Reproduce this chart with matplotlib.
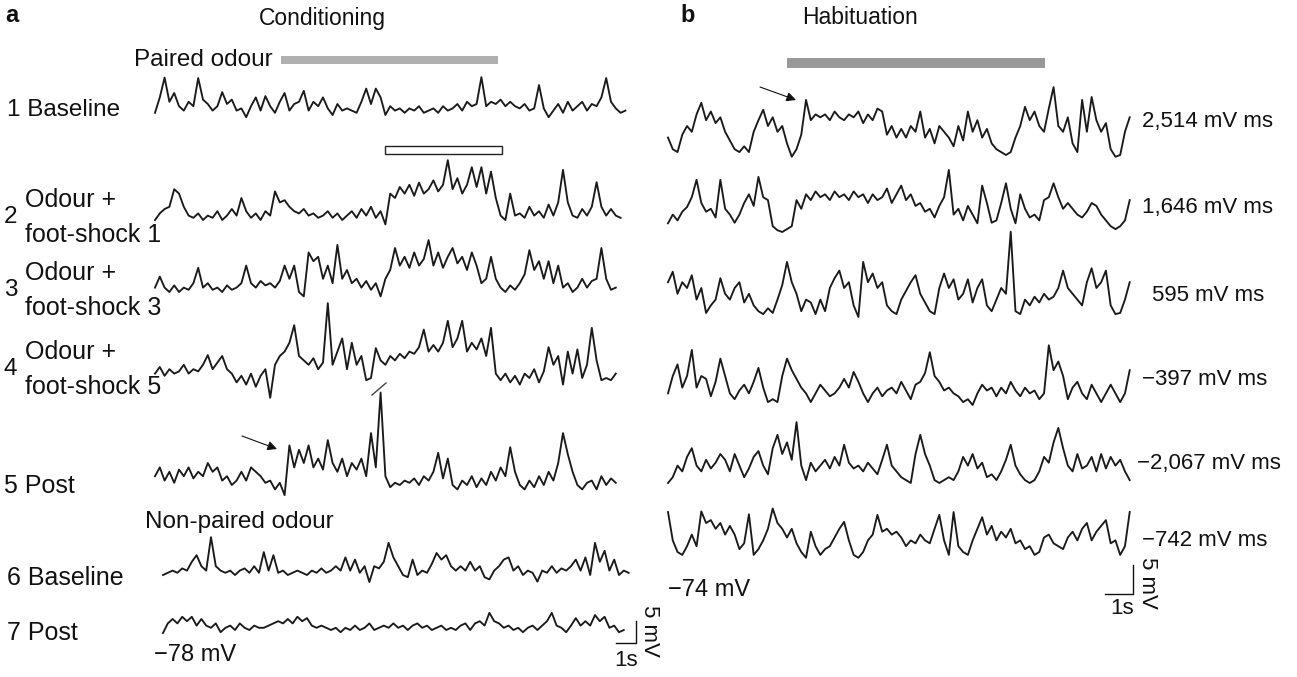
import matplotlib.pyplot as plt
import numpy as np
from matplotlib.patches import Rectangle

plt.rcParams['font.family'] = ['Liberation Sans', 'DejaVu Sans']

W, H = 1297, 677

# ---- panel a: conditioning, mV above resting level, one sample every 0.24 s
a_dt = 0.24
a_start = [0, 0, 0, 0, 0, 0.4, 0.4]  # s

a1 = [0.5, 4, 8.5, 3, 5, 2, 1, 3, 2, 8.4, 3.5, 2.5, 1, 2, 5.2, 2.5, 3.5, 1, 1.5, -0.5,
      2, 4, 1, 4.3, 2, 0.5, 3, 5, 1, 2.5, 3, 5.5, 1, 3, 2, 4, 1.5, 0, 2.5, 1,
      1.5, 1, 0.5, 3, 6, 2.5, 6, 4, 0, 2, 1, 1.5, 0.5, 1.5, 1, 2, 0.5, 1, 1.5, 0.5,
      2, 1, 1.5, 2.5, 1, 3, 2, 2.5, 8.6, 2, 3, 2.5, 3.5, 2, 3, 2, 1.5, 2.5, 1, 1.5,
      6.8, 1.5, -0.5, 1, 2.5, 0.5, 3, 1, 2, 3, 1, 2.5, 2, 4, 8.4, 3, 1.5, 0.5, 1]
a2 = [0, 1.5, 2.5, 3, 7, 6, 3, 1, 0.5, 1.5, 0, 1, 0.5, 2, 0, 1, 2.5, 1, 5, 2,
      0.5, 1.5, 0, 2, 1, 6.5, 4, 4.5, 3, 2, 1.5, 2.5, 1, 1.5, 0.5, 1, 2, 0.5, 1.5, 0,
      1, 2, 0.5, 2.5, 1, 3, 0.5, 2, -1, 6, 5, 7.5, 6, 8, 5.5, 8.5, 6, 7, 9, 6.5,
      8, 13.6, 7, 9.5, 6, 8, 12, 7.5, 12, 6, 11, 5, 1, 0, 6, 1, 1.5, 0.5, 3, 1,
      2, 0.5, 3.5, 1, 4, 11.4, 4, 1, 0.5, 2.5, 1, 3, 8.6, 3, 1, 2.5, 1, 0.5]
a3 = [1, 3.5, 1, 0, 1.5, 0, 1, 0.5, 2, 5.5, 1, 2, 0.5, 1, 0, 1.5, 0.5, 1, 2, 6,
      2, 1, 2.5, 1.5, 2, 1, 2.5, 6, 3, 6, 0, -1, 9, 7, 8, 3, 6, 2, 10.7, 3,
      5, 2, 3, 1, 2.5, 0.5, 2, -1, 3, 5, 10, 6, 8, 5.5, 9, 6, 7.5, 11.8, 6, 9,
      5.5, 8, 10, 6.5, 8, 5, 9, 6, 2, 3, 8, 3, 1, 0, 1.5, 0.5, 2, 4, 9.5, 5,
      7, 3, 7, 2, 6, 1, 2, 0, 1, 3, 1, 2.5, 3, 10, 3, 0.5, 1]
a4 = [1, 2.5, 0.5, 2, 1, 1.5, 3, 1, 2, 1.5, 3, 5.2, 2, 3.5, 5, 2, 1, -1, 0.5, -1.5,
      1, -2, 0.5, 2, -4.5, 3, 5, 6, 8, 12, 5, 4, 3, 4.5, 2, 3.5, 17, 3, 6, 9,
      2, 8, 3, 5, -0.5, 0, 6.8, 4, 3, 5, 4, 5.5, 4.5, 6, 5.5, 7, 11, 6, 7.5, 6,
      8, 13, 7, 9, 13, 6, 8, 6.5, 9, 5, 11.4, 1, -0.5, 1, -1, 0.5, -1.5, 1, 0, 2,
      -1, 1.5, 7, 3, 5, -1.5, 6, 1, 6.5, 0, 3, 11.4, 4, -0.5, 0, -0.5, 1]
a5 = [2, 4, 1, 3, 0.5, 3.5, 2, 4, 1.5, 3, 2, 5, 3, 4, 1, 2, 0, 1, 3, 1,
      4, 3, 2, 0.5, 1, -1, 0.5, -2.3, 9, 4, 8, 5, 9, 4, 6, 3.5, 10.2, 5, 3, 6,
      2, 5, 3.5, 6, 2, 11.8, 4, 21, 2, -0.5, 0.5, 0, 1, 0.5, 1.5, 0, 2, 1, 3, 7.3,
      1.5, 6, 0, -1, 1, 0, 2, -0.5, 1.5, 0, 3, 1, 4, 2, 8.6, 3, 0, -1, 1, -0.5,
      2, 0, 3, 1, 5, 11.8, 7, 3, 0, -1, 0.5, 1, -1, 2, 0, 1.5, 0.5]
a6 = [0, 0.5, 1, 0.5, 1.5, 1, 3, 4.5, 2, 1, 8.6, 2, 1, 0.5, 1, 0, 1, 1.5, 0.5, 2,
      0.5, 5.2, 1, 4.5, 0.5, 1, 0, 0.5, 1, 0.5, 0, 1, 0.5, 1.5, 0.5, 1, 2, 1, 4, 1,
      3.5, 0.5, 2, -1.6, 2, 1.5, 3, 7.3, 4, 2, 0, -0.5, 3.5, 0, 1, 0.5, 2.5, 5, 3.5, 4.5,
      2, 1, 2, 1, 3, 1, 2, -0.5, -1, 1, 2, 3.5, 4, 1, 2, 0, 1, 0.5, -1.5, 1,
      0.5, 2, 0.5, 1.5, 1, 2, 3.5, 1, 4, 0, 7.3, 3, 5.5, 1, 3.5, 0, 1, 0.5]
a7 = [-0.7, 1.5, 2.5, 1.5, 3, 2, 3, 1, 2.5, 1, 0.5, 1.5, -0.5, 0.5, 1, 0, 1.5, 0.5, 0, 1,
      0.5, 0.5, 1, 1.5, 2, 1.5, 2.5, 1.5, 3, 2, 2.7, 1, 0.5, 1, 0.5, 0, 0.5, -0.5, 0.5, 0,
      1, 0, 0.5, 1.5, 0, 0.5, 1, 0.5, 1.5, 0.5, 1, 0, 1, 1.5, 0.5, 1, 0, 0.5, 1, 0,
      0.5, 0, 1, 1.5, 0, 1.5, 2, 1, 3.9, 2, 1.5, 0.5, 1, 0, 0.5, -0.5, 0.5, 1, 0, 1,
      2, 3.9, 1, 0.5, -0.5, 1, 2.7, 1, 2, 1, 3.4, 2, 3, 0.5, 1, -0.5, 0]
a_traces = [a1, a2, a3, a4, a5, a6, a7]

paired_odour_s = (6.3, 17.15)
shock_s = (11.5, 17.35)

# ---- panel b: habituation, one sample every 0.17 s
b_dt = 0.17
b1 = [3, 1, 0.5, 3.5, 5, 4, 7, 9, 6, 7.5, 5.5, 6.5, 4, 2.5, 1, 0.5, 1.5, 0.5, 4, 6,
      7.8, 5, 6.5, 4, 5, 2, -0.3, 1, 3.5, 9.5, 6, 7, 6.5, 7, 6, 7.5, 6.5, 6, 7, 6.5,
      7.5, 5.5, 7, 6, 8, 7.5, 3.5, 5, 3, 4.5, 3, 5, 4, 7.5, 3, 4.5, 2, 5, 4, 3,
      1.5, 5, 2.5, 7.5, 4, 6, 3, 4.5, 2, 1, 0.5, 0, 0.5, 3, 5, 8.3, 6, 7.5, 5, 4,
      8, 11.7, 5, 4, 6.5, 2, 0.5, 9.5, 4, 10, 6, 4, 5.5, 1, -0.3, 0, 4, 6.5]
b2 = [1.5, 3, 2, 3.5, 4.3, 6, 9, 5, 3.5, 4, 2.5, 9, 4, 3, 1.6, 3, 5, 6.5, 4.5, 9.5,
      6, 5.5, 1, 0.3, 0, 0.5, 1, 5.5, 4, 6.5, 5.5, 7, 6, 6.5, 5.5, 7, 6, 6.5, 5.5, 7,
      6, 6.5, 5, 6.5, 5.5, 6, 7.5, 5, 6.5, 8, 5.5, 6.5, 4.5, 5, 3.5, 4, 2.5, 4.5, 6, 10.7,
      3, 4, 2, 4.5, 3, 1.5, 8, 5, 1.6, 2, 5, 8.4, 4, 1.5, 6.5, 4, 2.5, 3, 2, 5.5,
      6, 8.4, 6, 4, 5, 4, 3, 2.5, 3.5, 5, 4.5, 3, 2, 1, 0.5, 1, 2, 5.5]
b3 = [6, 7.8, 4, 6, 5, 7.2, 3, 5, 0.7, 2, 3, 6.7, 4, 3, 5, 6, 2.5, 4, 2, 1,
      0.5, 1.5, 0.7, 3, 5.5, 9.5, 6, 4, 1, 3, 2.5, 0.5, 3, 1, 5, 6.7, 8, 5, 6, 2,
      0, 9.5, 6, 7.5, 5, 6, 2, 1, 0.5, 3, 4.5, 6, 7.2, 4, 2.5, 1, 0.5, 5, 7.5, 5,
      6.5, 3, 4, 6.5, 2.5, 5, 6.5, 2, 1, 3, 5, 4, 14.7, 1, 0.5, 3, 2, 3.5, 2.5, 4,
      3, 3.5, 5, 8, 5, 4, 3, 2, 6, 8.4, 5, 6, 8, 2, 0.5, 0.7, 3, 6]
b4 = [2, 5, 7, 3, 5, 9.5, 3, 5, 4.5, 1.5, 4, 8, 5, 2, 1, 2.5, 3.5, 2, 4, 6.4,
      3, 0.5, 1, 0.5, 5, 8, 6, 4.5, 3, 2, 0.5, 2, 3.5, 2.5, 1.5, 2, 3, 4.5, 3, 5.7,
      4, 2, 0.5, 2, 3, 1.5, 2.5, 3, 2, 4, 2.5, 1, 3.5, 4, 5.5, 9.1, 5, 4, 2.5, 3,
      2, 1.5, 0.5, 1, 0, 2, 3.5, 2.5, 3, 1.5, 3, 2, 4, 2.5, 1.5, 3, 2, 2.5, 1, 2,
      10.3, 6, 7.5, 5, 1, 3, 4, 2, 1, 3.5, 2, 0.5, 2, 3.5, 2, 0.5, 2, 6]
b5 = [0, 1, 3, 2, 4.5, 6, 3, 2, 4, 2.5, 3.5, 5, 4, 2, 5, 3, 1, 2.5, 4.5, 5.5,
      3, 1.5, 6, 8.3, 5, 7, 4, 10.5, 3, 0.5, 3.5, 2, 3, 4, 2.5, 4.5, 3, 6.6, 3.5, 2.5,
      3, 2, 3.5, 2.5, 1.5, 4, 6.6, 3, 2, 1, 0.5, 0, 5, 8.3, 5, 3, 0.5, 0, 0.5, 1,
      0.5, 2, 4.5, 3, 5, 2.5, 3.5, 1, 1.5, 0.5, 2, 4, 6.6, 3, 1.5, 0.5, 0, 0.5, 2, 4.5,
      3.5, 7, 9.5, 6, 3, 2, 5, 2.5, 3, 4.5, 2, 5, 2.5, 4.5, 3, 4, 2, 0.5]
b6 = [6.9, 2, 0, -0.5, 1, 3, 1, 7, 5, 5.5, 4, 5, 3, 4.5, 3, 0.5, 1.5, 6.5, -0.5, 0.5,
      2, 4, 7.5, 5, 4, 2.5, 4, 1.5, 0, -1, 3.5, 1, -0.5, 0.5, 1, 2.5, 4, 5.2, 2, -0.5,
      -1, 0, 2, 3, 6.4, 3.5, 4, 3, 3.5, 2.5, 1, 2, 1.5, 3, 2, 1.5, 4, 6.4, 2, -0.5,
      6.9, 1, 0, -0.5, 2, 4, 6, 3, 4.5, 2, 3.5, 2.5, 4, 1.5, 2, 0.5, 1, -0.5, 0, 2.5,
      3, 1.5, 1, 0.5, 2.5, 3.5, 2, 4, 5, 2, 3.5, 4.5, 5.5, 1.5, 2, -0.5, 1, 6.9]
b_traces = [b1, b2, b3, b4, b5, b6]
b_labels = ['2,514 mV ms', '1,646 mV ms', '595 mV ms',
            '\u2212397 mV ms', '\u22122,067 mV ms', '\u2212742 mV ms']

hab_odour_s = (4.25, 13.46)

# ---- layout, in pixels of the 1297x677 canvas
A_X0, A_PPS, A_PPMV = 155, 20, 4.4
B_X0, B_PPS, B_PPMV = 668, 28, 5.8
a_rows = [115, 220, 292, 378, 485, 575, 630]
b_rows = [155, 232, 317, 405, 483, 552]
b_label_pos = [(1142, 122), (1142, 208), (1152, 295), (1142, 380), (1137, 463), (1142, 541)]
TRACE = '#1a1a1a'
LW = 1.35

fig = plt.figure(figsize=(W / 100, H / 100), dpi=100)


def panel(x0, pps, ppmv):
    # full-canvas axes: x in seconds, y in mV
    ax = fig.add_axes([0, 0, 1, 1])
    ax.set_xlim(-x0 / pps, (W - x0) / pps)
    ax.set_ylim(-H / ppmv, 0)
    ax.axis('off')
    return ax


def txt(x, y, s, size=16, **kw):
    fig.text(x / W, 1 - y / H, s, fontsize=size, va='center', color='#111111', **kw)


ax_a = panel(A_X0, A_PPS, A_PPMV)
ax_b = panel(B_X0, B_PPS, B_PPMV)


def a_pt(x, y):
    return (x - A_X0) / A_PPS, -y / A_PPMV


def b_pt(x, y):
    return (x - B_X0) / B_PPS, -y / B_PPMV


# traces
for v, t0, row in zip(a_traces, a_start, a_rows):
    t = t0 + a_dt * np.arange(len(v))
    ax_a.plot(t, np.array(v) - row / A_PPMV, color=TRACE, lw=LW, clip_on=False)

for v, row in zip(b_traces, b_rows):
    t = b_dt * np.arange(len(v))
    ax_b.plot(t, np.array(v) - row / B_PPMV, color=TRACE, lw=LW, clip_on=False)

# odour / shock bars
ax_a.add_patch(Rectangle((paired_odour_s[0], -64 / A_PPMV), paired_odour_s[1] - paired_odour_s[0],
                         8 / A_PPMV, fc='#b0b0b0', ec='none'))
ax_a.add_patch(Rectangle((shock_s[0], -154 / A_PPMV), shock_s[1] - shock_s[0],
                         8 / A_PPMV, fc='white', ec='#222222', lw=1.0))
ax_b.add_patch(Rectangle((hab_odour_s[0], -68 / B_PPMV), hab_odour_s[1] - hab_odour_s[0],
                         10 / B_PPMV, fc='#999999', ec='none'))

# arrows and the shock artefact mark
arrow = dict(arrowstyle='-|>', color='#111111', lw=0.8, mutation_scale=14, shrinkA=0, shrinkB=0)
ax_a.annotate('', xy=a_pt(277, 449), xytext=a_pt(242, 436), arrowprops=arrow)
ax_b.annotate('', xy=b_pt(796, 100), xytext=b_pt(760, 87), arrowprops=arrow)
sx, sy = zip(a_pt(372, 395), a_pt(386, 383))
ax_a.plot(sx, sy, color='#444444', lw=1.0)

# scale bars: 1 s and 5 mV
cx, cy = a_pt(636, 643)
ax_a.plot([cx - 1, cx, cx], [cy, cy, cy + 5], color='#111111', lw=1.0)
cx, cy = b_pt(1133, 594)
ax_b.plot([cx - 1, cx, cx], [cy, cy, cy + 5], color='#111111', lw=1.0)

# texts, panel a
txt(5, 16, 'a', size=17, fontweight='bold')
txt(322, 18, 'Conditioning', size=16.5, ha='center')
txt(134, 60, 'Paired odour', size=17.5)
txt(7, 110, '1 Baseline', size=17.5)
for n, y, k in [(2, 217, 1), (3, 290, 3), (4, 369, 5)]:
    txt(4, y, str(n), size=17.5)
    txt(25, y - 17, 'Odour +', size=18)
    txt(25, y + 18, 'foot-shock %d' % k, size=18)
txt(4, 486, '5 Post', size=18)
txt(145, 522, 'Non-paired odour', size=17.5)
txt(7, 578, '6 Baseline', size=18)
txt(7, 633, '7 Post', size=18)
txt(154, 655, '\u221278 mV', size=17)
txt(626, 661, '1s', ha='center')
txt(650, 631, '5 mV', rotation=270, ha='center')

# texts, panel b
txt(680, 16, 'b', size=17, fontweight='bold')
txt(860, 18, 'Habituation', size=16.5, ha='center')
for s, (x, y) in zip(b_labels, b_label_pos):
    txt(x, y, s)
txt(668, 590, '\u221274 mV', size=17)
txt(1122, 609, '1s', ha='center')
txt(1148, 583, '5 mV', rotation=270, ha='center')

fig.savefig('out.png', dpi=100)
